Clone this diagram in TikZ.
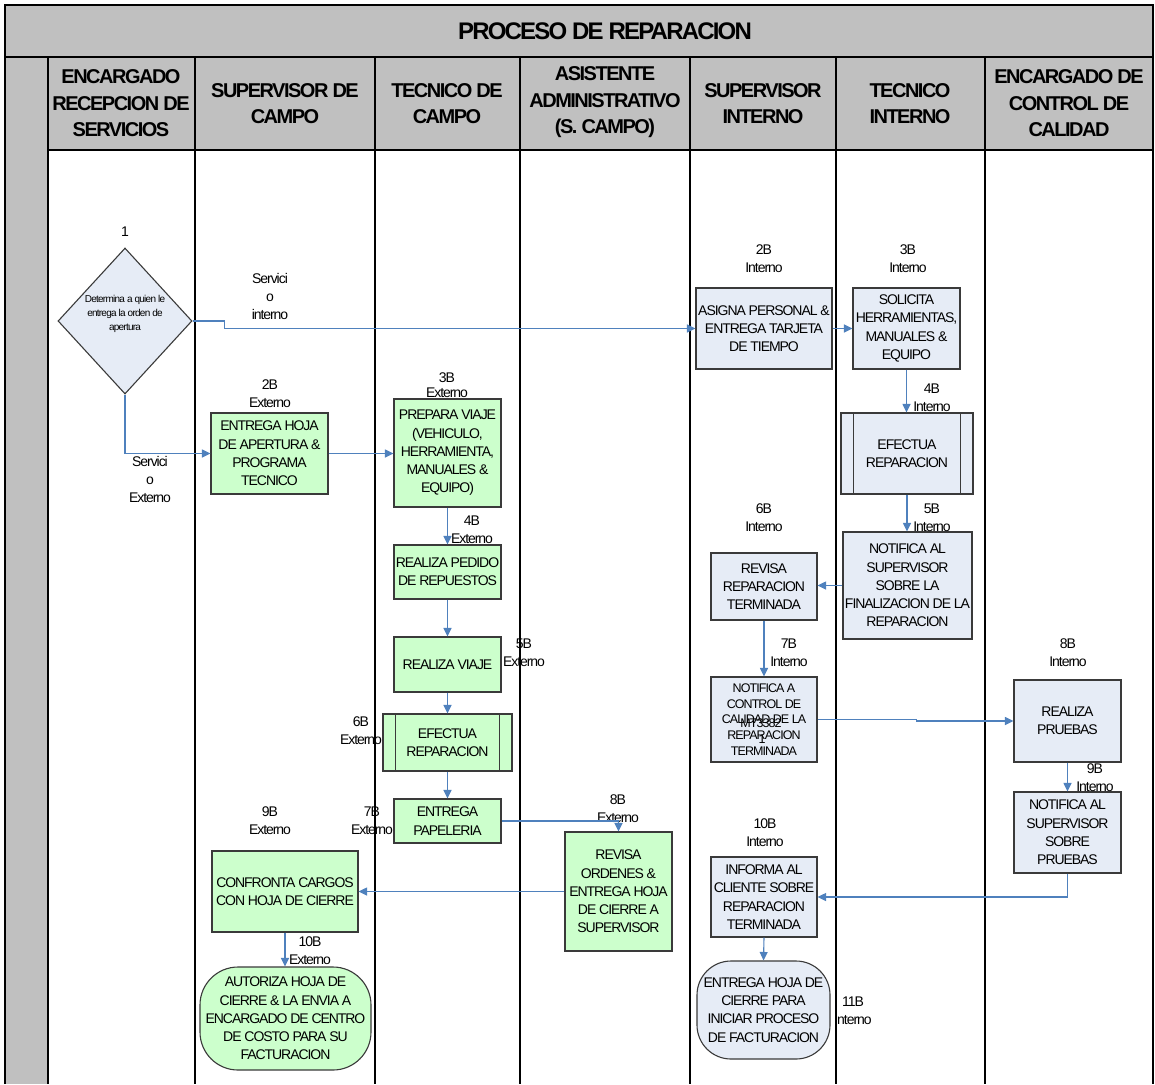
\documentclass[tikz,border=0pt]{standalone}
\usepackage{fontspec}
\setmainfont{Liberation Sans}[LetterSpace=-7.5]
\usetikzlibrary{shapes.geometric,arrows.meta,calc}
\definecolor{hdr}{HTML}{C0C0C0}
\definecolor{grn}{HTML}{CCFFCC}
\definecolor{blu}{HTML}{E6ECF6}
\definecolor{conn}{HTML}{4F81BD}
\definecolor{edge}{HTML}{3A3A3A}
\tikzset{
 hdrtxt/.style={font=\fontsize{20}{26.5}\selectfont\bfseries, align=center, inner sep=0pt},
 box/.style={draw=edge, line width=1.1pt, inner sep=0pt, align=center, font=\fontsize{14}{18.3}\selectfont},
 gbox/.style={box, fill=grn},
 bbox/.style={box, fill=blu},
 lbl/.style={align=center, font=\fontsize{14}{18}\selectfont, inner sep=0pt},
 flow/.style={draw=conn, line width=1.1pt, -{Triangle[length=8.5pt,width=8pt]}},
 lane/.style={draw=black, line width=1.5pt},
}
\newcommand{\bx}[7]{\node[#1, minimum width={#5-#3}, minimum height={#6-#4}] (#2) at ({(#3+#5)/2},{(#4+#6)/2}) {#7};}
\newcommand{\predeflines}[1]{%
 \draw[draw=edge, line width=1.1pt] ($(#1.north west)+(13,0)$) -- ($(#1.south west)+(13,0)$);
 \draw[draw=edge, line width=1.1pt] ($(#1.north east)+(-13,0)$) -- ($(#1.south east)+(-13,0)$);}
\begin{document}
\begin{tikzpicture}[x=1pt,y=-1pt]
\useasboundingbox (0,0) rectangle (1155,1084);
\fill[white] (0,0) rectangle (1155,1084);
% frame
\fill[hdr] (5,5) rectangle (1153,150);
\fill[hdr] (5,150) rectangle (48,1084);
\draw[lane] (5,1084) -- (5,5) -- (1153,5) -- (1153,1084);
\draw[lane] (5,57) -- (1153,57);
\draw[lane] (48,150) -- (1153,150);
\foreach \lx in {48,195,375,520,690,836,985} {\draw[lane] (\lx,57) -- (\lx,1084);}
\node[font=\fontsize{24}{28}\selectfont\bfseries, inner sep=0pt] (title) at (605,31) {PROCESO DE REPARACION};
\node[hdrtxt] (h1) at (121,103.5) {ENCARGADO\\RECEPCION DE\\SERVICIOS};
\node[hdrtxt] (h2) at (285,103.5) {SUPERVISOR DE\\CAMPO};
\node[hdrtxt] (h3) at (447,103.5) {TECNICO DE\\CAMPO};
\node[hdrtxt] (h4) at (605,102.5) {ASISTENTE\\ADMINISTRATIVO\\(S. CAMPO)};
\node[hdrtxt] (h5) at (763,103.5) {SUPERVISOR\\INTERNO};
\node[hdrtxt] (h6) at (910,103.5) {TECNICO\\INTERNO};
\node[hdrtxt] (h7) at (1069,103.5) {ENCARGADO DE\\CONTROL DE\\CALIDAD};
% diamond
\node[diamond, draw=edge, fill=blu, line width=1.1pt, minimum width=134, minimum height=146, inner sep=0pt] (d1) at (125,321) {};
\node[align=center, inner sep=0pt, font=\fontsize{10}{14}\selectfont] (d1t) at (125,314) {Determina a quien le\\entrega la orden de\\apertura};
% external boxes
\bx{gbox}{entrega}{211}{413}{328}{494}{ENTREGA HOJA\\DE APERTURA \&\\PROGRAMA\\TECNICO}
\bx{gbox}{prepara}{394}{399}{501}{507}{PREPARA VIAJE\\(VEHICULO,\\HERRAMIENTA,\\MANUALES \&\\EQUIPO)}
\bx{gbox}{pedido}{394}{545}{501}{599}{REALIZA PEDIDO\\DE REPUESTOS}
\bx{gbox}{viaje}{394}{637}{501}{692}{REALIZA VIAJE}
\bx{gbox}{efext}{383}{714}{512}{771}{EFECTUA\\REPARACION}
\predeflines{efext}
\bx{gbox}{papeleria}{394}{799}{501}{843}{ENTREGA\\PAPELERIA}
\bx{gbox}{revord}{565}{832}{672}{951}{REVISA\\ORDENES \&\\ENTREGA HOJA\\DE CIERRE A\\SUPERVISOR}
\bx{gbox}{confronta}{212}{851}{358}{932}{CONFRONTA CARGOS\\CON HOJA DE CIERRE}
\bx{gbox, rounded corners=38pt}{autoriza}{200}{967}{371}{1070}{AUTORIZA HOJA DE\\CIERRE \& LA ENVIA A\\ENCARGADO DE CENTRO\\DE COSTO PARA SU\\FACTURACION}
% internal boxes
\bx{bbox}{asigna}{696}{288}{832}{369}{ASIGNA PERSONAL \&\\ENTREGA TARJETA\\DE TIEMPO}
\bx{bbox}{solicita}{853}{288}{960}{369}{SOLICITA\\HERRAMIENTAS,\\MANUALES \&\\EQUIPO}
\bx{bbox}{efint}{841}{413}{973}{494}{EFECTUA\\REPARACION}
\predeflines{efint}
\bx{bbox}{notsup}{843}{532}{972}{639}{NOTIFICA AL\\SUPERVISOR\\SOBRE LA\\FINALIZACION DE LA\\REPARACION}
\bx{bbox}{revrep}{711}{553}{817}{620}{REVISA\\REPARACION\\TERMINADA}
\bx{bbox, font=\fontsize{12.5}{15.8}\selectfont}{notctrl}{711}{677}{817}{762}{NOTIFICA A\\CONTROL DE\\CALIDAD DE LA\\REPARACION\\TERMINADA}
\node[font=\fontsize{12.5}{15}\selectfont, inner sep=0pt] (mt) at (761,723) {MT3382};
\node[font=\fontsize{12.5}{15}\selectfont, inner sep=0pt] (mt1) at (762,739) {1};
\bx{bbox}{pruebas}{1014}{680}{1121}{762}{REALIZA\\PRUEBAS}
\bx{bbox}{notpru}{1014}{792}{1121}{873}{NOTIFICA AL\\SUPERVISOR\\SOBRE\\PRUEBAS}
\bx{bbox}{informa}{711}{857}{817}{937}{INFORMA AL\\CLIENTE SOBRE\\REPARACION\\TERMINADA}
\bx{bbox, rounded corners=34pt}{entcierre}{697}{961}{830}{1059}{ENTREGA HOJA DE\\CIERRE PARA\\INICIAR PROCESO\\DE FACTURACION}
% labels
\node[lbl] (l1) at (125,232) {1};
\node[lbl] (lsi) at (270,296) {Servici\\o\\interno};
\node[lbl] (lse) at (150,479) {Servici\\o\\Externo};
\node[lbl] (l2e) at (270,393.5) {2B\\Externo};
\node[lbl, font=\fontsize{14}{15}\selectfont] (l3e) at (447,385) {3B\\Externo};
\node[lbl] (l4e) at (472,529.5) {4B\\Externo};
\node[lbl] (l5e) at (524,653) {5B\\Externo};
\node[lbl] (l6e) at (361,731) {6B\\Externo};
\node[lbl] (l7e) at (372,821) {7B\\Externo};
\node[lbl] (l8e) at (618,809) {8B\\Externo};
\node[lbl] (l9e) at (270,821) {9B\\Externo};
\node[lbl] (l10e) at (310,951) {10B\\Externo};
\node[lbl] (l2i) at (764,259) {2B\\Interno};
\node[lbl] (l3i) at (908,259) {3B\\Interno};
\node[lbl] (l4i) at (932,398) {4B\\Interno};
\node[lbl] (l5i) at (932,518) {5B\\Interno};
\node[lbl] (l6i) at (764,518) {6B\\Interno};
\node[lbl] (l7i) at (789,653) {7B\\Interno};
\node[lbl] (l8i) at (1068,653) {8B\\Interno};
\node[lbl] (l9i) at (1095,778) {9B\\Interno};
\node[lbl] (l10i) at (765,832.5) {10B\\Interno};
\node[lbl] (l11i) at (853,1010.5) {11B\\Interno};
% connectors
\draw[flow] (d1.east) -- ++(32,0) |- (asigna.west);
\draw[flow] (d1.south) |- (entrega.west);
\draw[flow] (entrega.east) -- (entrega.east -| prepara.west);
\draw[flow] (prepara.south) -- (pedido.north);
\draw[flow] (pedido.south) -- (viaje.north);
\draw[flow] (viaje.south) -- (efext.north);
\draw[flow] (efext.south) -- (papeleria.north);
\draw[flow] (papeleria.east) -| (revord.north);
\draw[flow] (revord.west) -- (revord.west -| confronta.east);
\draw[flow] (confronta.south) -- (confronta.south |- autoriza.north);
\draw[flow] (asigna.east) -- (solicita.west);
\draw[flow] (solicita.south) -- (solicita.south |- efint.north);
\draw[flow] (efint.south) -- (efint.south |- notsup.north);
\draw[flow] (notsup.west) -- (notsup.west -| revrep.east);
\draw[flow] (revrep.south) -- (notctrl.north);
\draw[flow] (notctrl.east) -- ++(99,0) |- (pruebas.west);
\draw[flow] (pruebas.south) -- (notpru.north);
\draw[flow] (notpru.south) |- (informa.east);
\draw[flow] (informa.south) -- (entcierre.north);
\end{tikzpicture}
\end{document}
